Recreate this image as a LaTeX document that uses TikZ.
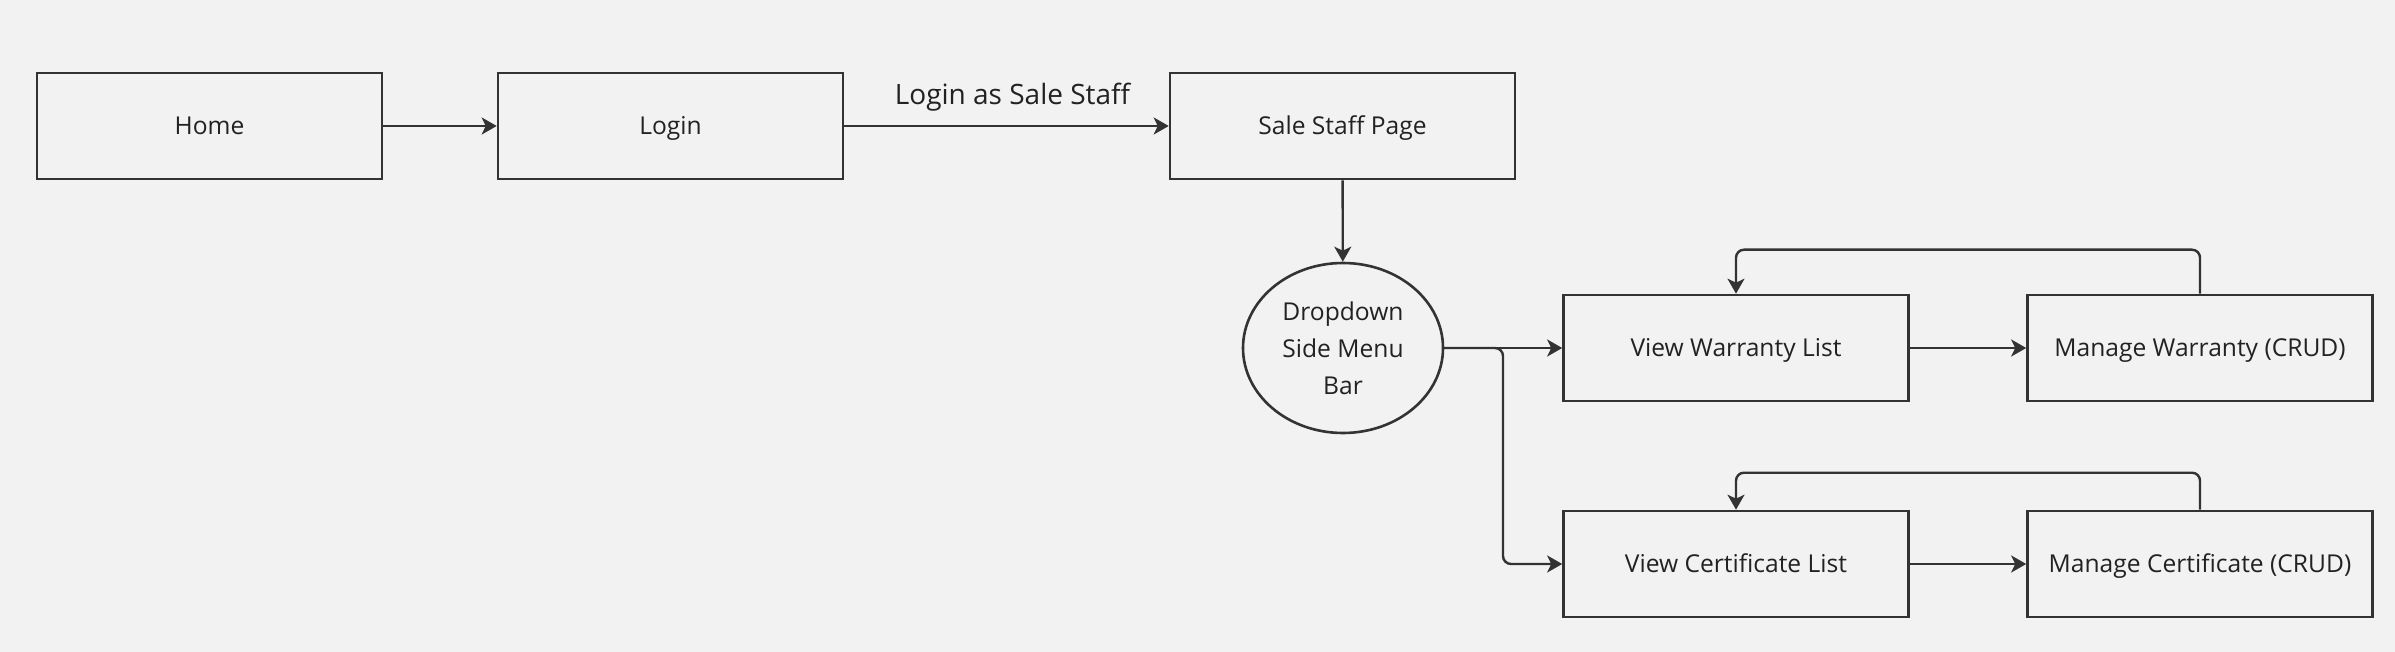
\documentclass[tikz,border=0pt]{standalone}
\usepackage{fontspec}
\setmainfont{Open Sans}
\usetikzlibrary{arrows.meta,shapes.geometric}
\definecolor{bgcol}{HTML}{F2F2F2}
\definecolor{linecol}{HTML}{333333}
\definecolor{txtcol}{HTML}{222222}
\tikzset{
  pagebox/.style={rectangle, draw=linecol, line width=1.3pt, minimum width=172.5pt, minimum height=53pt, inner sep=0pt, text height=1.1em, text depth=0.25em, text=txtcol, font=\fontsize{12.3}{18.5}\selectfont},
  menubox/.style={ellipse, draw=linecol, line width=1.3pt, minimum width=100pt, minimum height=85pt, inner sep=0pt, align=center, text=txtcol, font=\fontsize{12.3}{18.5}\selectfont},
  link/.style={draw=linecol, line width=1.2pt, -{Stealth[length=7.5pt, width=8.5pt, inset=2pt]}, rounded corners=4pt}
}
\begin{document}
\begin{tikzpicture}[x=0.5pt, y=-0.5pt]
\fill[bgcol] (0,0) rectangle (2395,652);
\useasboundingbox (0,0) rectangle (2395,652);
% Top row
\node[pagebox] (home) at (209.5, 126) {Home};
\node[pagebox] (login) at (670.5, 126) {Login};
\node[pagebox] (staff) at (1342.5, 126) {Sale Staff Page};
% Side menu
\node[menubox] (menu) at (1343, 348) {Dropdown\\Side Menu\\Bar};
% Warranty row
\node[pagebox] (viewwar) at (1736, 348) {View Warranty List};
\node[pagebox] (mngwar) at (2200, 348) {Manage Warranty (CRUD)};
% Certificate row
\node[pagebox] (viewcert) at (1736, 564) {View Certificate List};
\node[pagebox] (mngcert) at (2200, 564) {Manage Certificate (CRUD)};
\coordinate (fork) at (1503, 348);
% Connections
\draw[link] (home) -- (login);
\draw[link] (login) -- node[midway, above=3.5pt, xshift=3pt, text=txtcol, font=\fontsize{14}{17}\selectfont] {Login as Sale Staff} (staff);
\draw[link] (staff) -- (menu);
\draw[link] (menu) -- (viewwar);
\draw[link] (menu.east) -- (fork) |- (viewcert.west);
\draw[link] (viewwar) -- (mngwar);
\draw[link] (viewcert) -- (mngcert);
% Back loops
\draw[link] (mngwar.north) -- ++(0,-44) -| (viewwar.north);
\draw[link] (mngcert.north) -- ++(0,-37) -| (viewcert.north);
\end{tikzpicture}
\end{document}
